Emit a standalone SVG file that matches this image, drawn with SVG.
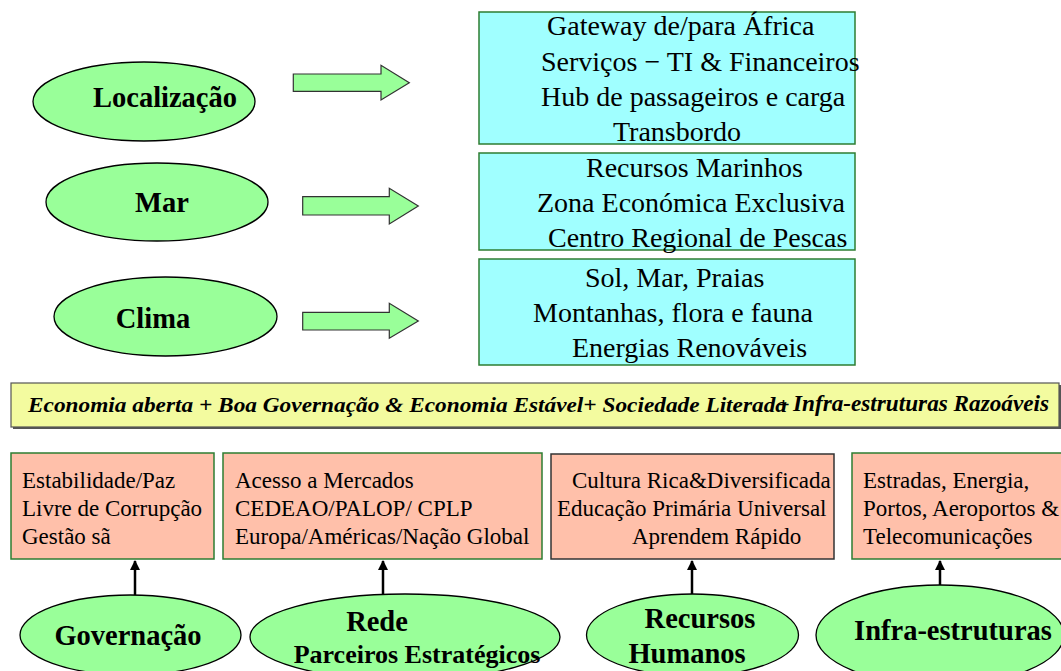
<svg xmlns="http://www.w3.org/2000/svg" width="1061" height="671" viewBox="0 0 1061 671">
<defs>
<style>
.ell{fill:#99ff99;stroke:#000;stroke-width:1.3}
.blk{fill:#99ff99;stroke:#333;stroke-width:1.2}
.cyan{fill:#a0ffff;stroke:#2e7d32;stroke-width:1.5}
.sal{fill:#ffc0aa;stroke:#2e7d32;stroke-width:1.5}
.t{font-family:"Liberation Serif","Times New Roman",serif;fill:#000}
.big{font-size:28px}
.mid{font-size:23px}
.bold{font-size:28.5px;font-weight:bold;text-anchor:middle}
.ban{font-weight:bold;font-style:italic}
.conn{stroke:#000;stroke-width:2.5;fill:none}
</style>
<marker id="ah" viewBox="0 0 10 10" refX="9" refY="5" markerWidth="4" markerHeight="4" orient="auto" markerUnits="strokeWidth">
<path d="M0,0 L10,5 L0,10 z" fill="#000"/>
</marker>
</defs>
<rect width="1061" height="671" fill="#fff"/>

<g id="loc">
<ellipse class="ell" cx="144" cy="101.5" rx="111" ry="39.5"/>
<text class="t bold" x="165" y="107">Localização</text>
</g>
<g id="mar">
<ellipse class="ell" cx="157" cy="202" rx="111" ry="39"/>
<text class="t bold" x="162" y="212">Mar</text>
</g>
<g id="clima">
<ellipse class="ell" cx="165.5" cy="316.5" rx="111.5" ry="39.5"/>
<text class="t bold" x="153" y="328">Clima</text>
</g>

<g id="arrows">
<path class="blk" d="M293.3,74 L381,74 L381,65.3 L409.3,82.7 L381,100 L381,91.3 L293.3,91.3 Z"/>
<path class="blk" d="M302.7,196.7 L389.3,196.7 L389.3,188.3 L418.3,206 L389.3,224 L389.3,215 L302.7,215 Z"/>
<path class="blk" d="M302.7,312.3 L389.3,312.3 L389.3,303.3 L418.3,321 L389.3,338.3 L389.3,330 L302.7,330 Z"/>
</g>

<g id="box-loc">
<rect class="cyan" x="479" y="12" width="376" height="132"/>
<text class="t big" x="547" y="35">Gateway de/para África</text>
<text class="t big" x="541" y="71">Serviços − TI &amp; Financeiros</text>
<text class="t big" x="541" y="106">Hub de passageiros e carga</text>
<text class="t big" x="613" y="141">Transbordo</text>
</g>
<g id="box-mar">
<rect class="cyan" x="479" y="153" width="376" height="97"/>
<text class="t big" x="586" y="177">Recursos Marinhos</text>
<text class="t big" x="537" y="212">Zona Económica Exclusiva</text>
<text class="t big" x="548" y="247">Centro Regional de Pescas</text>
</g>
<g id="box-clima">
<rect class="cyan" x="479" y="259" width="376" height="106"/>
<text class="t big" x="585" y="287">Sol, Mar, Praias</text>
<text class="t big" x="533" y="322">Montanhas, flora e fauna</text>
<text class="t big" x="572" y="357">Energias Renováveis</text>
</g>

<g id="banner">
<rect x="13" y="385" width="1048" height="44" fill="#555"/>
<rect x="11" y="383" width="1048" height="44" fill="#f3fb9f" stroke="#555" stroke-width="1.2"/>
<text class="t ban" x="28" y="412" font-size="22" textLength="759" lengthAdjust="spacingAndGlyphs">Economia aberta + Boa Governação &amp; Economia Estável+ Sociedade Literada</text>
<text class="t ban" x="777" y="412" font-size="22">+</text>
<text class="t ban" x="793" y="411" font-size="24" textLength="256" lengthAdjust="spacingAndGlyphs">Infra-estruturas Razoáveis</text>
</g>

<g id="box-gov">
<rect class="sal" x="11" y="453" width="203" height="106"/>
<text class="t mid" x="22" y="488">Estabilidade/Paz</text>
<text class="t mid" x="22" y="516">Livre de Corrupção</text>
<text class="t mid" x="22" y="544">Gestão sã</text>
</g>
<g id="box-rede">
<rect class="sal" x="223" y="453" width="319" height="106"/>
<text class="t mid" x="235" y="488">Acesso a Mercados</text>
<text class="t mid" x="235" y="516">CEDEAO/PALOP/ CPLP</text>
<text class="t mid" x="235" y="544">Europa/Américas/Nação Global</text>
</g>
<g id="box-rh">
<rect class="sal" x="551" y="454" width="283" height="105" style="stroke:#333"/>
<text class="t mid" x="572" y="488">Cultura Rica&amp;Diversificada</text>
<text class="t mid" x="557" y="516">Educação Primária Universal</text>
<text class="t mid" x="632" y="544">Aprendem Rápido</text>
</g>
<g id="box-infra">
<rect class="sal" x="852" y="453" width="215" height="106"/>
<text class="t mid" x="863" y="488">Estradas, Energia,</text>
<text class="t mid" x="863" y="516">Portos, Aeroportos &amp;</text>
<text class="t mid" x="863" y="544">Telecomunicações</text>
</g>

<g id="connectors">
<line class="conn" x1="135" y1="595" x2="135" y2="561" marker-end="url(#ah)"/>
<line class="conn" x1="383" y1="594" x2="383" y2="561" marker-end="url(#ah)"/>
<line class="conn" x1="692" y1="594" x2="692" y2="561" marker-end="url(#ah)"/>
<line class="conn" x1="940" y1="585" x2="940" y2="561" marker-end="url(#ah)"/>
</g>

<g id="gov">
<ellipse class="ell" cx="130.5" cy="635" rx="110.5" ry="40"/>
<text class="t bold" x="128" y="645">Governação</text>
</g>
<g id="rede">
<ellipse class="ell" cx="405" cy="637" rx="155" ry="43"/>
<text class="t bold" x="377" y="631">Rede</text>
<text class="t bold" x="417" y="663" style="font-size:26px">Parceiros Estratégicos</text>
</g>
<g id="rh">
<ellipse class="ell" cx="692.5" cy="635" rx="106" ry="41"/>
<text class="t bold" x="700" y="628">Recursos</text>
<text class="t bold" x="687" y="663">Humanos</text>
</g>
<g id="infra">
<ellipse class="ell" cx="940" cy="635" rx="124" ry="50"/>
<text class="t bold" x="953" y="640">Infra-estruturas</text>
</g>
</svg>
